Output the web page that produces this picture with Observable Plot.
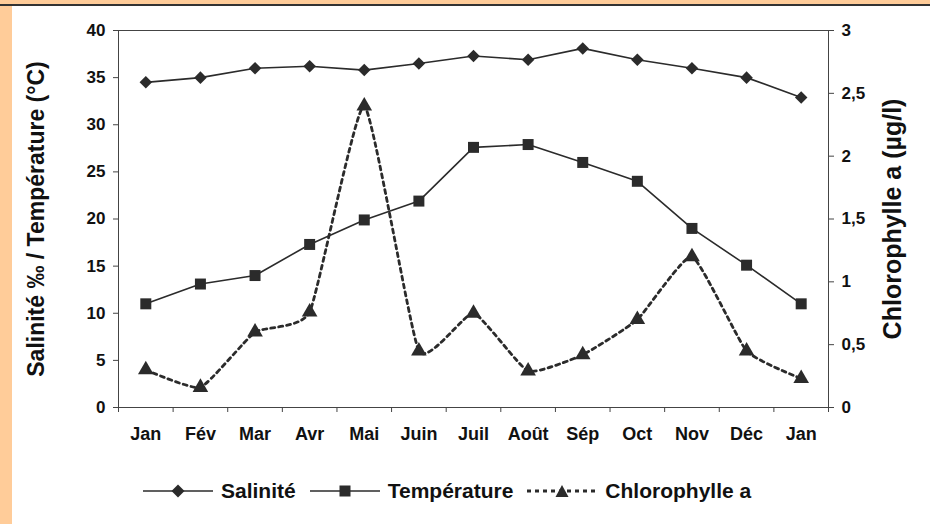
<!DOCTYPE html>
<html><head><meta charset="utf-8">
<script src="https://cdn.jsdelivr.net/npm/d3@7"></script>
<script src="https://cdn.jsdelivr.net/npm/@observablehq/plot@0.6"></script>
<style>
body{margin:0;background:#FFCC99;width:930px;height:524px;overflow:hidden;font-family:"Liberation Sans",Arial,sans-serif;}
#topline{position:absolute;left:0;top:4px;width:930px;height:2px;background:#333}
#panel{position:absolute;left:12px;top:6px;width:918px;height:518px;background:#fff}
#chart svg{display:block}
#legend{position:absolute;left:131px;top:473px;display:flex;align-items:center;font-weight:bold;font-size:21px;color:#111;white-space:nowrap}
#legend .item{display:flex;align-items:center;margin-right:14px}
#legend svg{margin-right:8px;display:block}
</style></head><body>
<div id="topline"></div>
<div id="panel"><div id="chart"></div><div id="legend"></div></div>
<script>
const months = ["Jan","Fév","Mar","Avr","Mai","Juin","Juil","Août","Sép","Oct","Nov","Déc","Jan"];
const salinite = [34.5,35.0,36.0,36.2,35.8,36.5,37.3,36.9,38.1,36.9,36.0,35.0,32.9];
const temperature = [11.0,13.1,14.0,17.3,19.9,21.9,27.6,27.9,26.0,24.0,19.0,15.1,11.0];
const chlorophylle = [0.30,0.16,0.60,0.76,2.40,0.45,0.75,0.29,0.42,0.70,1.20,0.45,0.23];
const leftTicks = [0,5,10,15,20,25,30,35,40];
const rightTicks = [0,0.5,1,1.5,2,2.5,3];
const seriesNames = ["Salinité","Température","Chlorophylle a"];

const k = 40 / 3; // right axis (0–3) mapped onto left axis (0–40)
const rows = months.map((m, i) => ({
  x: i + 0.5,
  sal: salinite[i],
  temp: temperature[i],
  chl: chlorophylle[i] * k
}));
const ink = "#2b2b2b";
const fmtComma = v => String(Math.round(v * 10) / 10).replace(".", ",");

const chart = Plot.plot({
  width: 918,
  height: 456,
  marginLeft: 106,
  marginRight: 102,
  marginTop: 24,
  marginBottom: 55,
  style: {fontFamily: "Liberation Sans, Arial, sans-serif", fontWeight: "bold", fontSize: "17px", color: "#111", background: "transparent"},
  x: {domain: [0, months.length]},
  y: {domain: [0, 40]},
  marks: [
    Plot.frame({stroke: "#444"}),
    Plot.axisY(leftTicks, {anchor: "left", tickSize: 5, tickPadding: 8, stroke: "#444",
      label: "Salinité ‰ / Température (°C)", labelAnchor: "center", labelArrow: "none", labelOffset: 91}),
    Plot.axisY(rightTicks.map(v => v * k), {anchor: "right", tickSize: 5, tickPadding: 8, stroke: "#444",
      tickFormat: d => fmtComma(d / k),
      label: "Chlorophylle a (µg/l)", labelAnchor: "center", labelArrow: "none", labelOffset: 72}),
    Plot.axisX(d3.range(months.length + 1), {tickSize: 5, stroke: "#444", tickFormat: () => "", label: null}),
    Plot.axisX(months.map((m, i) => i + 0.5), {tickSize: 0, tickPadding: 20, tickFormat: d => months[Math.floor(d)], label: null, fontSize: 18}),
    Plot.lineY(rows, {x: "x", y: "sal", stroke: ink, strokeWidth: 1.6}),
    Plot.lineY(rows, {x: "x", y: "temp", stroke: ink, strokeWidth: 1.6}),
    Plot.lineY(rows, {x: "x", y: "chl", stroke: ink, strokeWidth: 2.8, strokeDasharray: "4,4", curve: "cardinal", tension: 0.55}),
    Plot.dot(rows, {x: "x", y: "sal", symbol: "square", rotate: 45, r: 5, fill: ink, stroke: null}),
    Plot.dot(rows, {x: "x", y: "temp", symbol: "square", r: 6.2, fill: ink, stroke: null}),
    Plot.dot(rows, {x: "x", y: "chl", symbol: "triangle", r: 5.8, fill: ink, stroke: null})
  ]
});
document.getElementById("chart").appendChild(chart);
const labels = d3.select(chart).selectAll('[aria-label="y-axis label"] text');
labels.style("font-size", (d, i, n) => n[i].textContent.startsWith("Chloro") ? "25px" : "23px");

// legend
const legend = d3.select("#legend");
const shapes = ["diamond", "square", "triangle"];
seriesNames.forEach((name, j) => {
  const it = legend.append("div").attr("class", "item");
  const s = it.append("svg").attr("width", 70).attr("height", 16);
  s.append("line").attr("x1", 0).attr("x2", 70).attr("y1", 8).attr("y2", 8)
    .attr("stroke", ink).attr("stroke-width", j === 2 ? 2.8 : 1.6)
    .attr("stroke-dasharray", j === 2 ? "4,4" : null);
  if (shapes[j] === "diamond") s.append("path").attr("d", "M35,1.5L41.5,8L35,14.5L28.5,8Z").attr("fill", ink);
  if (shapes[j] === "square") s.append("rect").attr("x", 29.5).attr("y", 2.5).attr("width", 11).attr("height", 11).attr("fill", ink);
  if (shapes[j] === "triangle") s.append("path").attr("d", "M35,2L41.5,14L28.5,14Z").attr("fill", ink);
  it.append("span").text(name);
});
</script>
</body></html>
